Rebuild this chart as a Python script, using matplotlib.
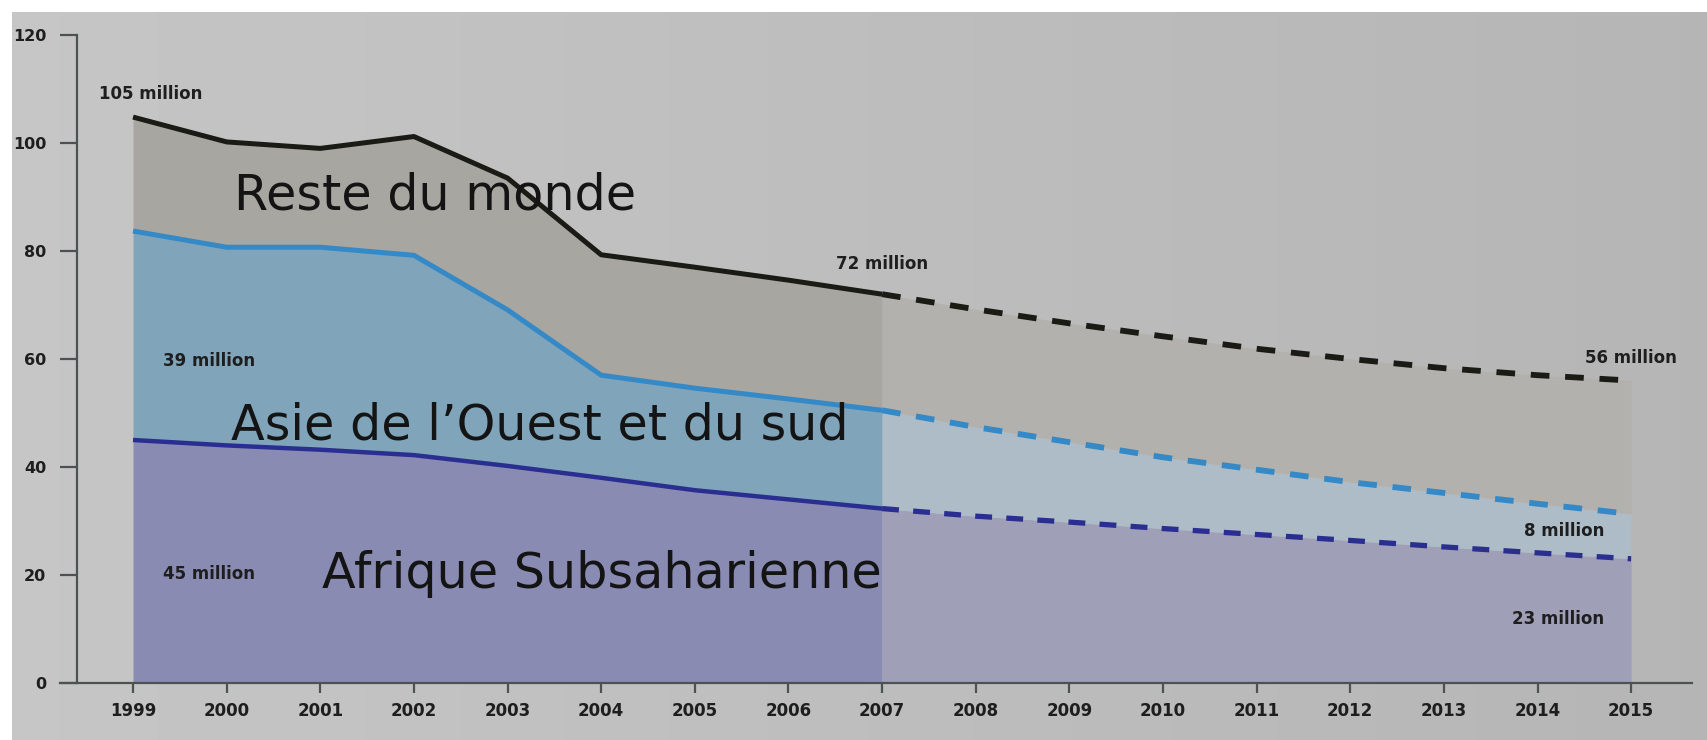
import numpy as np
import matplotlib
matplotlib.use('Agg')
import matplotlib.pyplot as plt

# Out-of-school children (millions), stacked totals
years = list(range(1999, 2016))
total = [104.8, 100.2, 99.0, 101.2, 93.5, 79.3, 77, 74.6, 72,
         69.2, 66.6, 64.2, 61.9, 60.0, 58.3, 57.0, 56]
asia_top = [83.7, 80.7, 80.7, 79.2, 69.1, 57, 54.6, 52.6, 50.5,
            47.4, 44.6, 41.8, 39.5, 37.2, 35.2, 33.2, 31.3]
africa = [45, 44, 43.2, 42.2, 40.2, 38, 35.7, 34, 32.3,
          30.9, 29.8, 28.6, 27.5, 26.4, 25.2, 24.1, 23]
last_observed = 2007

region_labels = ['Reste du monde', 'Asie de l\u2019Ouest et du sud', 'Afrique Subsaharienne']
yticks = [0, 20, 40, 60, 80, 100, 120]

fig = plt.figure(figsize=(17.08, 7.4), dpi=100, facecolor='white')

# grey backdrop with a slight left-to-right shading, white strip top and left
bg = fig.add_axes([12 / 1708, 0, 1 - 12 / 1708, 1 - 12 / 740], zorder=-10)
grad = np.linspace(0.775, 0.71, 256).reshape(1, -1)
bg.imshow(grad, cmap='gray', vmin=0, vmax=1, aspect='auto', extent=[0, 1, 0, 1])
bg.axis('off')

ax = fig.add_axes([60 / 1708, 57 / 740, 1632 / 1708, 648 / 740])
ax.set_facecolor('none')

yrs = np.array(years)
tot = np.array(total)
asia = np.array(asia_top)
afr = np.array(africa)
obs = yrs <= last_observed
proj = yrs >= last_observed

# filled areas: solid colours for observed years, paler for projections
ax.fill_between(yrs[obs], 0, afr[obs], color='#8a8bb3', lw=0, zorder=1)
ax.fill_between(yrs[obs], afr[obs], asia[obs], color='#80a4b9', lw=0, zorder=1)
ax.fill_between(yrs[obs], asia[obs], tot[obs], color='#a8a6a1', lw=0, zorder=1)
ax.fill_between(yrs[proj], 0, afr[proj], color='#a09fb8', lw=0, zorder=1)
ax.fill_between(yrs[proj], afr[proj], asia[proj], color='#adbcc6', lw=0, zorder=1)
ax.fill_between(yrs[proj], asia[proj], tot[proj], color='#b3b1ad', lw=0, zorder=1)

line_styles = [(tot, '#1b1b15', 3.6), (asia, '#3589c6', 3.6), (afr, '#2a2e90', 3.2)]
for vals, col, lw in line_styles:
    ax.plot(yrs[obs], vals[obs], color=col, lw=lw, solid_capstyle='butt', zorder=3)
    ax.plot(yrs[proj], vals[proj], color=col, lw=lw + 0.6, dashes=(3.2, 2.7),
            dash_capstyle='butt', zorder=3)

# value annotations
small = dict(fontsize=12, fontweight='bold', color='#1e1e1e', ha='center', va='center',
             zorder=5)
ax.text(1999.19, 109.1, '105 million', **small)
ax.text(2007.0, 77.6, '72 million', **small)
ax.text(2015.0, 60.2, '56 million', **small)
ax.text(1999.81, 59.6, '39 million', **small)
ax.text(1999.81, 20.2, '45 million', **small)
ax.text(2014.29, 28.1, '8 million', **small)
ax.text(2014.22, 11.8, '23 million', **small)

big = dict(fontsize=35.5, color='#141414', ha='left', va='baseline', zorder=5)
ax.text(2000.08, 87.6, region_labels[0], **big)
ax.text(2000.05, 45.1, region_labels[1], **big)
ax.text(2001.02, 17.6, region_labels[2], **big)

ax.set_xlim(1998.22, 2015.65)
ax.set_ylim(0, 120)
ax.spines['top'].set_visible(False)
ax.spines['right'].set_visible(False)
ax.spines['left'].set_position(('data', 1998.4))
for s in ['left', 'bottom']:
    ax.spines[s].set_color('#4c5152')
    ax.spines[s].set_linewidth(1.6)
    ax.spines[s].set_zorder(4)

ax.set_xticks(years)
ax.set_xticklabels([str(y) for y in years])
ax.set_yticks(yticks)
ax.tick_params(axis='x', length=7, width=1.6, color='#4c5152', pad=7,
               labelsize=12, labelcolor='#1e1e1e')
ax.tick_params(axis='y', length=12, width=1.6, color='#4c5152', pad=10,
               labelsize=11.5, labelcolor='#1e1e1e')
for lab in ax.get_xticklabels() + ax.get_yticklabels():
    lab.set_fontweight('bold')

plt.savefig('out.png', dpi=100, facecolor=fig.get_facecolor())
